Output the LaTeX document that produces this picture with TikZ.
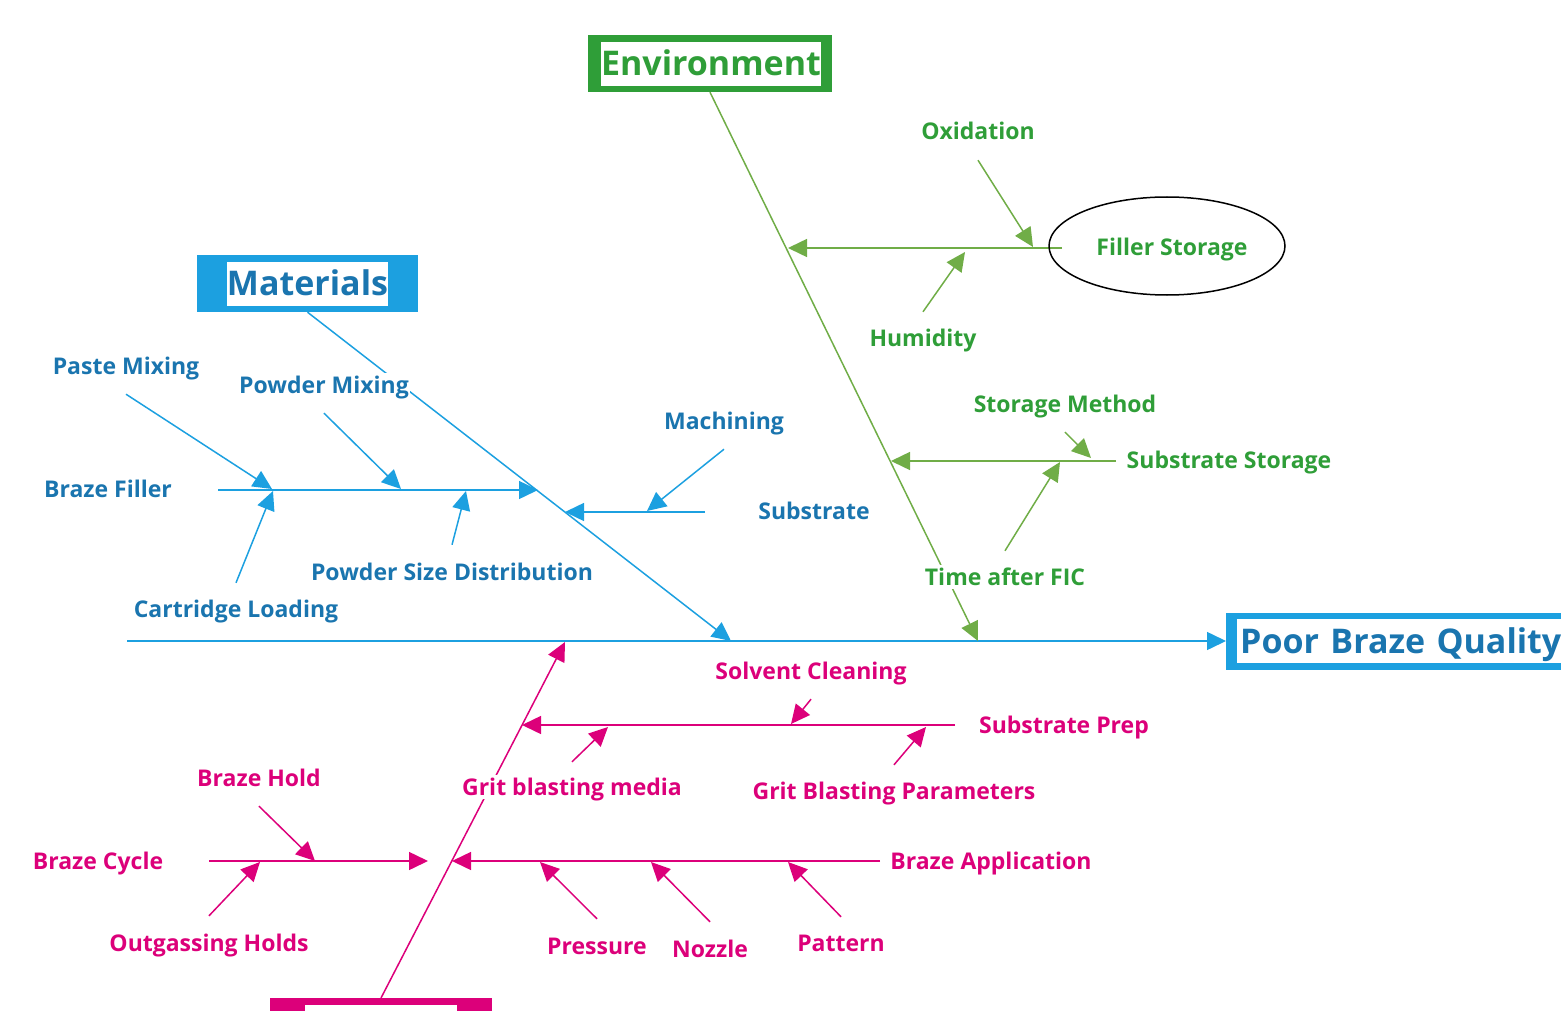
\documentclass[tikz,border=0pt]{standalone}
\usepackage{fontspec}
\setmainfont{Open Sans}
\usetikzlibrary{arrows.meta,backgrounds,shapes.geometric}
\definecolor{matline}{RGB}{28,160,224}
\definecolor{mattext}{RGB}{26,117,175}
\definecolor{envline}{RGB}{112,173,71}
\definecolor{envtext}{RGB}{47,158,56}
\definecolor{procpink}{RGB}{220,0,122}

\begin{document}
\begin{tikzpicture}[x=1pt,y=-1pt,
  lab/.style={fill=white,inner sep=1pt,text height=19pt,text depth=3pt,font=\fontsize{23}{26}\selectfont\bfseries},
  blab/.style={lab,text=mattext},
  glab/.style={lab,text=envtext},
  plab/.style={lab,text=procpink},
  cat/.style={fill=#1,inner sep=0pt,minimum height=57pt},
  cattxt/.style={fill=white,inner sep=0pt,minimum height=44pt,text height=26pt,text depth=2pt,font=\fontsize{34}{40}\selectfont\bfseries},
  bone/.style={draw=#1,line width=1.5pt,-{Triangle[length=19pt,width=18pt]}}]
\path[use as bounding box,clip] (0,0) rectangle (1561,1011);

% Kopf und Kategorien
\node[cat=matline,anchor=west,minimum width=360pt] (effect) at (1226,641) {};
\node[cattxt,anchor=west,text=mattext,text width=330pt,inner xsep=3pt,align=left] at (1237,641) {Poor Braze Quality};
\node[cat=matline,minimum width=221pt] (mat) at (307.5,283.5) {};
\node[cattxt,text=mattext,minimum width=161pt] at (mat) {Materials};
\node[cat=envtext,minimum width=244pt] (env) at (710,63.5) {};
\node[cattxt,text=envtext,minimum width=220pt] at (711,64) {Environment};
\node[cat=procpink,anchor=north,minimum width=222pt,minimum height=60pt] (proc) at (381,998) {};
\node[fill=white,anchor=north,inner sep=0pt,minimum width=152pt,minimum height=50pt] at (381,1005) {};

% Materials
\node[blab] (paste) at (126,366) {Paste Mixing};
\node[blab] (pmix) at (324,385) {Powder Mixing};
\node[blab] (bfill) at (108,489) {Braze Filler};
\node[blab] (cart) at (236,609) {Cartridge Loading};
\node[blab] (psd) at (452,572) {Powder Size Distribution};
\node[blab] (mach) at (724,421) {Machining};
\node[blab] (subs) at (814,511) {Substrate};

% Environment
\node[glab] (oxid) at (978,132) {Oxidation};
\node[ellipse,draw=black,line width=1.5pt,minimum width=236pt,minimum height=98pt] (fill) at (1167,246) {};
\node[glab,fill=none] (filltxt) at (1172,247) {Filler Storage};
\node[glab] (humid) at (923,338) {Humidity};
\node[glab] (smeth) at (1065,404) {Storage Method};
\node[glab] (sstor) at (1229,460) {Substrate Storage};
\node[glab] (tfic) at (1005,577) {Time after FIC};

% Process
\node[plab] (solv) at (811,671) {Solvent Cleaning};
\node[plab] (sprep) at (1064,725) {Substrate Prep};
\node[plab] (gmed) at (572,787) {Grit blasting media};
\node[plab] (gpar) at (894,791) {Grit Blasting Parameters};
\node[plab] (bhold) at (259,778) {Braze Hold};
\node[plab] (bcyc) at (98,861) {Braze Cycle};
\node[plab] (bapp) at (991,861) {Braze Application};
\node[plab] (outg) at (209,943) {Outgassing Holds};
\node[plab] (pres) at (597,946) {Pressure};
\node[plab] (nozz) at (710,949) {Nozzle};
\node[plab] (patt) at (841,943) {Pattern};

\coordinate (tail) at (127,641);

\begin{scope}[on background layer]
\draw[bone=matline] (tail) -- (effect.west);
\draw[bone=matline] (mat.south) -- (731,641);
\draw[bone=envline] (env.south) -- (978,641);
\draw[bone=procpink] (proc.north) -- (565,642);

\draw[bone=matline] (218,490) -- (538,490);
\draw[bone=matline] (paste.south) ++(0,16) -- (272,489);
\draw[bone=matline] (pmix.south) ++(0,16) -- (401,489);
\draw[bone=matline] (cart.north) ++(0,-14) -- (273,491);
\draw[bone=matline] (psd.north) ++(0,-15) -- (466,491);
\draw[bone=matline] (705,512) -- (565,512);
\draw[bone=matline] (mach.south) ++(0,16) -- (647,511);

\draw[bone=envline] (1062,248) -- (788,248);
\draw[bone=envline] (oxid.south) ++(0,16) -- (1033,247);
\draw[bone=envline] (humid.north) ++(0,-14) -- (965,252);
\draw[bone=envline] (1116,461) -- (891,461);
\draw[bone=envline] (smeth.south) ++(0,16) -- (1091,458);
\draw[bone=envline] (tfic.north) ++(0,-14) -- (1060,462);

\draw[bone=procpink] (955,725) -- (522,725);
\draw[bone=procpink] (solv.south) ++(0,16) -- (791,724);
\draw[bone=procpink] (gmed.north) ++(0,-13) -- (608,727);
\draw[bone=procpink] (gpar.north) ++(0,-14) -- (926,727);
\draw[bone=procpink] (880,861) -- (452,861);
\draw[bone=procpink] (pres.north) ++(0,-15) -- (540,862);
\draw[bone=procpink] (nozz.north) ++(0,-15) -- (651,862);
\draw[bone=procpink] (patt.north) ++(0,-14) -- (788,862);
\draw[bone=procpink] (209,861) -- (428,861);
\draw[bone=procpink] (bhold.south) ++(0,16) -- (315,861);
\draw[bone=procpink] (outg.north) ++(0,-15) -- (260,862);
\end{scope}
\end{tikzpicture}
\end{document}
